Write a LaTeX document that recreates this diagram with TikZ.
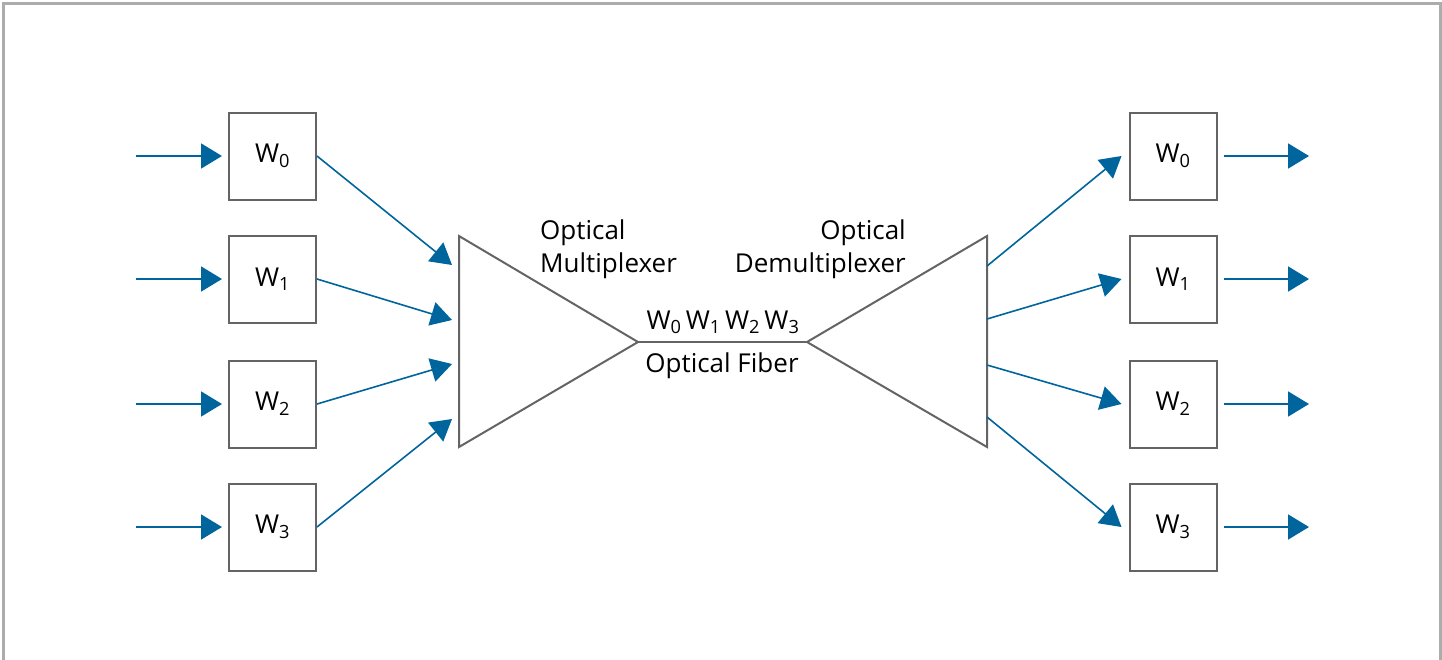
\documentclass[tikz,border=0pt]{standalone}
\usepackage{fontspec}
\setmainfont{Open Sans}
\usetikzlibrary{arrows.meta}
\definecolor{arrowblue}{RGB}{0,101,156}
\definecolor{boxgray}{RGB}{100,100,100}
\definecolor{framegray}{RGB}{172,172,172}
\begin{document}
\begin{tikzpicture}[x=1pt,y=-1pt,
  wbox/.style={draw=boxgray,line width=2pt,minimum width=87pt,minimum height=87pt,inner sep=0pt,font=\fontsize{26}{30}\selectfont},
  flow/.style={draw=arrowblue,line width=1.8pt,-{Triangle[length=21pt,width=25pt]}},
  link/.style={draw=arrowblue,line width=1.6pt,-{Triangle[length=21pt,width=24pt]}},
  tri/.style={draw=boxgray,line width=2pt,line join=miter},
  lbl/.style={font=\fontsize{26}{30}\selectfont,inner sep=0pt}]
\useasboundingbox (0,0) rectangle (1442,659);
\draw[framegray,line width=3pt] (3,670) -- (3,3) -- (1440,3) -- (1440,670);
% left boxes
\foreach \i/\y in {0/156,1/279,2/404,3/527}{
  \node[wbox] (L\i) at (272.5,\y) {W\textsubscript{\i}};
  \coordinate (Lin\i) at (136,\y);
  \draw[flow] (Lin\i) -- ([xshift=-6pt]L\i.west);
}
% right boxes
\foreach \i/\y in {0/156,1/279,2/404,3/527}{
  \node[wbox] (R\i) at (1173,\y) {W\textsubscript{\i}};
  \coordinate (Rout\i) at (1309,\y);
  \draw[flow] ([xshift=6pt]R\i.east) -- (Rout\i);
}
% multiplexer / demultiplexer triangles
\coordinate (muxT) at (459,236);
\coordinate (muxB) at (459,447);
\coordinate (muxA) at (638,342);
\coordinate (dmxT) at (987,236);
\coordinate (dmxB) at (987,447);
\coordinate (dmxA) at (807,342);
\draw[tri] (muxT) -- (muxA) -- (muxB) -- cycle;
\draw[tri] (dmxT) -- (dmxA) -- (dmxB) -- cycle;
\draw[tri] (muxA) -- (dmxA);
% links into mux
\foreach \i/\y in {0/265,1/320,2/364,3/419}{
  \coordinate (m\i) at (452,\y);
  \draw[link] (L\i.east) -- (m\i);
}
% links out of demux
\foreach \i/\y in {0/266,1/319,2/365,3/417}{
  \coordinate (d\i) at (987,\y);
  \draw[link] (d\i) -- ([xshift=-7pt]R\i.west);
}
% labels
\node[lbl,anchor=base west] (mux1) at (540,239) {Optical};
\node[lbl,anchor=base west] (mux2) at (540,272) {Multiplexer};
\node[lbl,anchor=base east] (dmx1) at (906,239) {Optical};
\node[lbl,anchor=base east] (dmx2) at (906,272) {Demultiplexer};
\node[lbl,anchor=base] (wl) at (723,329) {W\textsubscript{0}\,W\textsubscript{1}\,W\textsubscript{2}\,W\textsubscript{3}};
\node[lbl,anchor=base] (fib) at (722,372) {Optical Fiber};
\end{tikzpicture}
\end{document}
